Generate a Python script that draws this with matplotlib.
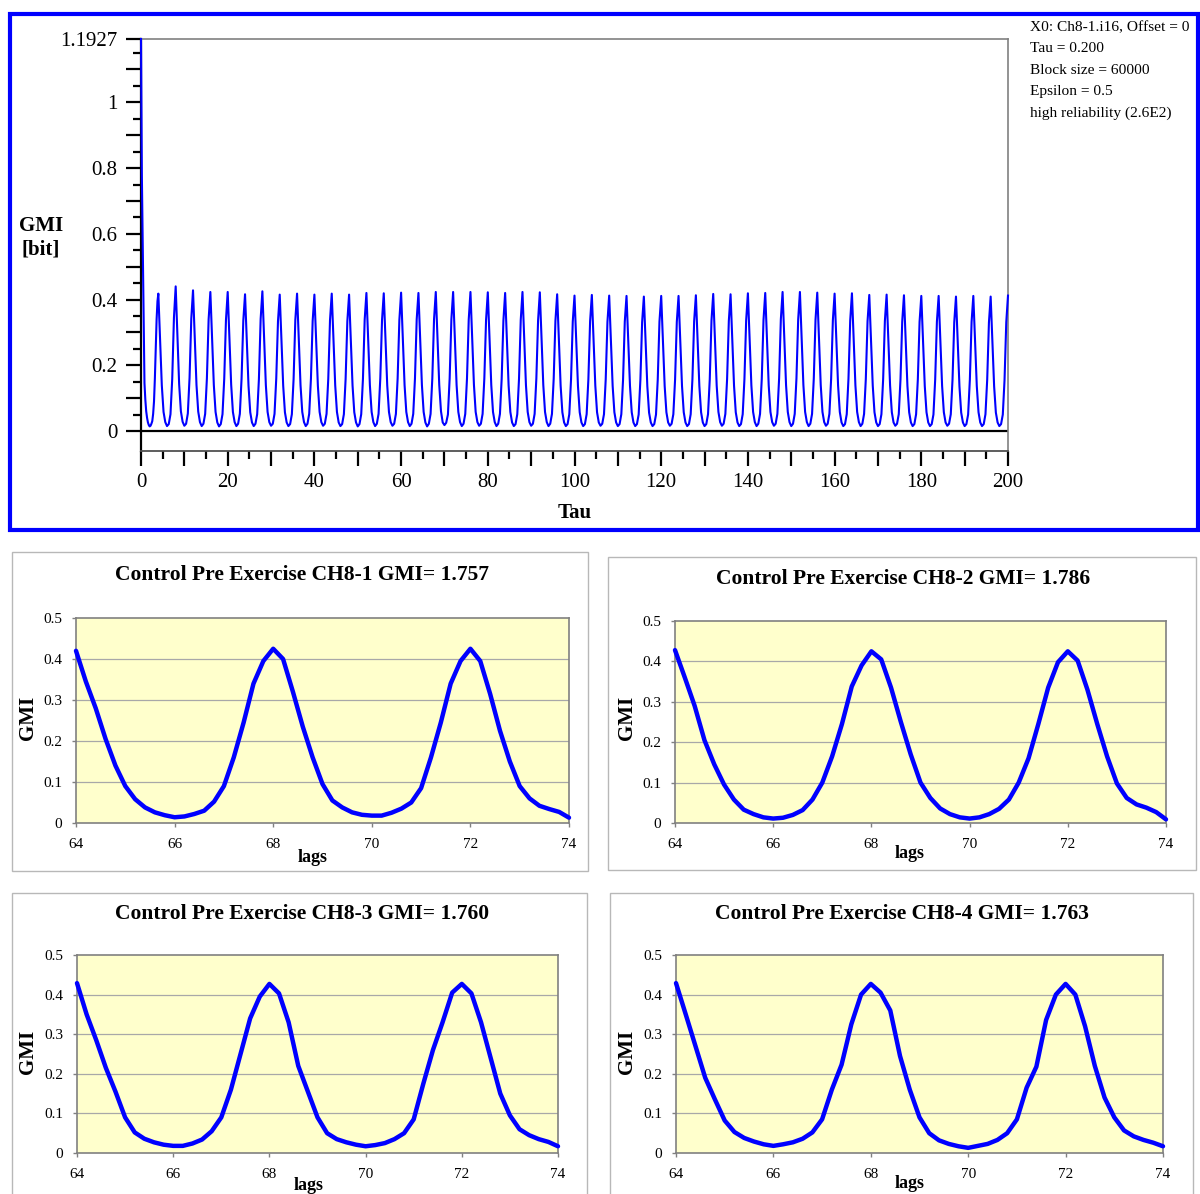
import numpy as np
import matplotlib
matplotlib.use('Agg')
import matplotlib.pyplot as plt
from matplotlib.patches import Rectangle
from matplotlib.ticker import FixedLocator, FixedFormatter

plt.rcParams['font.family'] = ['Liberation Serif', 'DejaVu Serif']

# ---------------- data: top chart (GMI vs Tau) ----------------
# tau 0 .. 3.8, step 0.2
gmi_start = [1.1927, 0.776, 0.557, 0.330, 0.146, 0.095, 0.060, 0.040, 0.026, 0.018,
             0.014, 0.016, 0.022, 0.030, 0.052, 0.090, 0.160, 0.245, 0.340, 0.395]
# each row: tau = 4k + [0, 0.4, ..., 3.6]  for k = 1 .. 49
gmi_cycles = [
    [0.418, 0.281, 0.139, 0.058, 0.027, 0.015, 0.021, 0.051, 0.158, 0.345],
    [0.440, 0.290, 0.142, 0.060, 0.028, 0.016, 0.022, 0.053, 0.162, 0.342],
    [0.428, 0.285, 0.140, 0.059, 0.027, 0.015, 0.022, 0.052, 0.160, 0.340],
    [0.423, 0.282, 0.140, 0.058, 0.026, 0.014, 0.021, 0.051, 0.159, 0.338],
    [0.423, 0.283, 0.141, 0.058, 0.027, 0.015, 0.022, 0.052, 0.160, 0.336],
    [0.416, 0.279, 0.138, 0.057, 0.026, 0.015, 0.022, 0.051, 0.158, 0.341],
    [0.425, 0.284, 0.140, 0.058, 0.027, 0.016, 0.022, 0.052, 0.160, 0.334],
    [0.415, 0.278, 0.138, 0.057, 0.026, 0.015, 0.021, 0.051, 0.158, 0.338],
    [0.418, 0.280, 0.139, 0.058, 0.027, 0.015, 0.022, 0.052, 0.159, 0.335],
    [0.415, 0.279, 0.138, 0.058, 0.027, 0.016, 0.022, 0.052, 0.159, 0.337],
    [0.418, 0.280, 0.139, 0.058, 0.026, 0.015, 0.021, 0.051, 0.158, 0.334],
    [0.415, 0.278, 0.138, 0.057, 0.026, 0.014, 0.021, 0.051, 0.159, 0.339],
    [0.420, 0.281, 0.139, 0.058, 0.027, 0.015, 0.022, 0.052, 0.160, 0.337],
    [0.419, 0.280, 0.139, 0.058, 0.027, 0.016, 0.022, 0.052, 0.160, 0.338],
    [0.421, 0.281, 0.140, 0.058, 0.027, 0.015, 0.022, 0.052, 0.160, 0.340],
    [0.420, 0.280, 0.140, 0.058, 0.026, 0.014, 0.022, 0.052, 0.160, 0.340],
    [0.423, 0.282, 0.140, 0.060, 0.026, 0.018, 0.025, 0.050, 0.160, 0.340],
    [0.423, 0.282, 0.140, 0.058, 0.027, 0.015, 0.022, 0.052, 0.160, 0.339],
    [0.423, 0.282, 0.141, 0.058, 0.027, 0.016, 0.022, 0.052, 0.160, 0.338],
    [0.422, 0.281, 0.140, 0.058, 0.027, 0.015, 0.022, 0.052, 0.159, 0.336],
    [0.420, 0.280, 0.139, 0.058, 0.026, 0.015, 0.021, 0.051, 0.159, 0.338],
    [0.423, 0.282, 0.140, 0.058, 0.027, 0.016, 0.022, 0.052, 0.160, 0.337],
    [0.422, 0.281, 0.140, 0.058, 0.027, 0.015, 0.022, 0.052, 0.159, 0.335],
    [0.416, 0.279, 0.138, 0.057, 0.026, 0.015, 0.021, 0.051, 0.157, 0.333],
    [0.412, 0.277, 0.137, 0.057, 0.026, 0.015, 0.021, 0.051, 0.157, 0.334],
    [0.414, 0.278, 0.138, 0.057, 0.026, 0.016, 0.022, 0.051, 0.157, 0.332],
    [0.412, 0.277, 0.137, 0.057, 0.026, 0.015, 0.021, 0.051, 0.156, 0.333],
    [0.411, 0.276, 0.137, 0.057, 0.026, 0.015, 0.021, 0.050, 0.156, 0.331],
    [0.409, 0.275, 0.136, 0.056, 0.026, 0.015, 0.021, 0.050, 0.156, 0.333],
    [0.411, 0.276, 0.137, 0.057, 0.026, 0.016, 0.022, 0.051, 0.156, 0.332],
    [0.411, 0.276, 0.137, 0.057, 0.026, 0.015, 0.021, 0.051, 0.157, 0.334],
    [0.413, 0.277, 0.137, 0.057, 0.026, 0.015, 0.021, 0.051, 0.157, 0.336],
    [0.417, 0.279, 0.138, 0.058, 0.027, 0.016, 0.022, 0.052, 0.158, 0.335],
    [0.416, 0.279, 0.138, 0.057, 0.026, 0.015, 0.021, 0.051, 0.158, 0.337],
    [0.419, 0.280, 0.139, 0.058, 0.027, 0.015, 0.022, 0.052, 0.159, 0.338],
    [0.420, 0.280, 0.139, 0.058, 0.027, 0.016, 0.022, 0.052, 0.160, 0.340],
    [0.423, 0.282, 0.140, 0.058, 0.027, 0.015, 0.022, 0.052, 0.160, 0.340],
    [0.423, 0.282, 0.140, 0.058, 0.027, 0.015, 0.022, 0.052, 0.160, 0.339],
    [0.421, 0.281, 0.140, 0.058, 0.027, 0.016, 0.022, 0.052, 0.159, 0.337],
    [0.418, 0.280, 0.139, 0.058, 0.026, 0.015, 0.021, 0.051, 0.159, 0.336],
    [0.419, 0.280, 0.139, 0.058, 0.027, 0.015, 0.022, 0.052, 0.158, 0.334],
    [0.414, 0.278, 0.138, 0.057, 0.026, 0.015, 0.021, 0.051, 0.158, 0.335],
    [0.415, 0.278, 0.138, 0.057, 0.026, 0.016, 0.022, 0.051, 0.157, 0.333],
    [0.413, 0.277, 0.137, 0.057, 0.026, 0.015, 0.021, 0.051, 0.157, 0.332],
    [0.411, 0.276, 0.137, 0.057, 0.026, 0.015, 0.021, 0.050, 0.156, 0.333],
    [0.411, 0.276, 0.137, 0.057, 0.026, 0.016, 0.022, 0.051, 0.156, 0.331],
    [0.409, 0.275, 0.136, 0.056, 0.026, 0.015, 0.021, 0.050, 0.156, 0.332],
    [0.411, 0.276, 0.137, 0.057, 0.026, 0.015, 0.021, 0.051, 0.156, 0.330],
    [0.409, 0.275, 0.136, 0.056, 0.026, 0.015, 0.021, 0.050, 0.155, 0.331],
]
gmi_end = [0.412]   # tau = 200

top_y_major = [0, 0.1, 0.2, 0.3, 0.4, 0.5, 0.6, 0.7, 0.8, 0.9, 1.0, 1.1, 1.1927]
top_y_labels = ['0', '', '0.2', '', '0.4', '', '0.6', '', '0.8', '', '1', '', '1.1927']
top_x_major = list(range(0, 201, 10))
top_x_labels = [str(v) if v % 20 == 0 else '' for v in top_x_major]

info_lines = ['X0: Ch8-1.i16, Offset = 0', 'Tau = 0.200', 'Block size = 60000',
              'Epsilon = 0.5', 'high reliability (2.6E2)']

# ---------------- data: bottom panels (lags 64..74, step 0.2) ----------------
panel_titles = ['Control Pre Exercise CH8-1 GMI= 1.757',
                'Control Pre Exercise CH8-2 GMI= 1.786',
                'Control Pre Exercise CH8-3 GMI= 1.760',
                'Control Pre Exercise CH8-4 GMI= 1.763']
gmi_ch8_1 = [0.420, 0.345, 0.280, 0.205, 0.140, 0.090, 0.058, 0.038, 0.026, 0.019,
             0.014, 0.016, 0.022, 0.030, 0.052, 0.090, 0.160, 0.245, 0.340, 0.395,
             0.425, 0.400, 0.320, 0.235, 0.160, 0.095, 0.055, 0.038, 0.026, 0.020,
             0.018, 0.018, 0.025, 0.035, 0.050, 0.085, 0.160, 0.245, 0.340, 0.395,
             0.425, 0.395, 0.315, 0.225, 0.150, 0.090, 0.060, 0.042, 0.034, 0.027,
             0.013]
gmi_ch8_2 = [0.428, 0.360, 0.290, 0.205, 0.145, 0.095, 0.058, 0.033, 0.022, 0.014,
             0.011, 0.013, 0.020, 0.032, 0.058, 0.100, 0.165, 0.245, 0.338, 0.390,
             0.425, 0.405, 0.335, 0.250, 0.170, 0.100, 0.062, 0.036, 0.022, 0.014,
             0.011, 0.014, 0.022, 0.035, 0.058, 0.100, 0.160, 0.245, 0.335, 0.398,
             0.425, 0.402, 0.330, 0.245, 0.165, 0.098, 0.062, 0.046, 0.038, 0.027,
             0.009]
gmi_ch8_3 = [0.429, 0.350, 0.285, 0.215, 0.155, 0.090, 0.052, 0.036, 0.027, 0.021,
             0.018, 0.018, 0.024, 0.034, 0.055, 0.090, 0.160, 0.250, 0.340, 0.395,
             0.427, 0.403, 0.330, 0.220, 0.155, 0.090, 0.050, 0.035, 0.027, 0.021,
             0.017, 0.020, 0.025, 0.035, 0.050, 0.085, 0.175, 0.260, 0.330, 0.405,
             0.427, 0.403, 0.330, 0.240, 0.150, 0.095, 0.060, 0.045, 0.035, 0.028,
             0.017]
gmi_ch8_4 = [0.429, 0.350, 0.270, 0.190, 0.135, 0.082, 0.053, 0.038, 0.029, 0.022,
             0.018, 0.022, 0.027, 0.036, 0.052, 0.085, 0.160, 0.223, 0.325, 0.400,
             0.427, 0.405, 0.360, 0.245, 0.160, 0.090, 0.050, 0.032, 0.023, 0.017,
             0.013, 0.018, 0.023, 0.033, 0.050, 0.085, 0.165, 0.218, 0.336, 0.400,
             0.427, 0.400, 0.320, 0.220, 0.140, 0.090, 0.057, 0.042, 0.033, 0.026,
             0.017]
panel_values = [gmi_ch8_1, gmi_ch8_2, gmi_ch8_3, gmi_ch8_4]
lag_ticks = [64, 66, 68, 70, 72, 74]
gmi_ticks = [0, 0.1, 0.2, 0.3, 0.4, 0.5]
gmi_tick_labels = ['0', '0.1', '0.2', '0.3', '0.4', '0.5']

# ---------------- figure ----------------
W, H = 1200, 1194
fig = plt.figure(figsize=(W / 100, H / 100), dpi=100)
fig.patch.set_facecolor('white')


def fx(px):
    return px / W


def fy(py):
    return 1 - py / H


def add_axes_px(l, t, r, b):
    return fig.add_axes([fx(l), fy(b), (r - l) / W, (b - t) / H])


def rect_px(l, t, r, b, color, lw):
    fig.add_artist(Rectangle((fx(l), fy(b)), (r - l) / W, (b - t) / H,
                             transform=fig.transFigure, fill=False,
                             edgecolor=color, linewidth=lw, zorder=0))


# ---- top panel ----
rect_px(9.7, 13.7, 1198, 530, '#0000ff', 3.0)

tau_top = np.concatenate([np.arange(len(gmi_start)) * 0.2,
                          4 + np.arange(len(gmi_cycles) * 10) * 0.4,
                          [200.0]])
gmi_top = np.concatenate([gmi_start, np.ravel(gmi_cycles), gmi_end])

ax = add_axes_px(141, 39, 1008, 451)
ymin = -20 / ((431 - 39) / 1.1927)
ax.set_xlim(0, 200)
ax.set_ylim(ymin, 1.1927)
ax.plot(tau_top, gmi_top, color='#0000ff', lw=1.5, clip_on=False, zorder=3)
ax.axhline(0, color='black', lw=1.6, zorder=2)
ax.spines['left'].set_color('black')
ax.spines['left'].set_linewidth(1.6)
ax.spines['bottom'].set_color('#505050')
ax.spines['bottom'].set_linewidth(1.3)
for s in ('top', 'right'):
    ax.spines[s].set_color('#808080')
    ax.spines[s].set_linewidth(1.2)

ax.yaxis.set_major_locator(FixedLocator(top_y_major))
ax.yaxis.set_major_formatter(FixedFormatter(top_y_labels))
ax.yaxis.set_minor_locator(FixedLocator([0.05 + 0.1 * i for i in range(12)]))
ax.xaxis.set_major_locator(FixedLocator(top_x_major))
ax.xaxis.set_major_formatter(FixedFormatter(top_x_labels))
ax.xaxis.set_minor_locator(FixedLocator([5 + 10 * i for i in range(20)]))
ax.tick_params(axis='both', which='major', length=11, width=1.6, color='black',
               direction='out', labelsize=15, pad=6)
ax.tick_params(axis='both', which='minor', length=6, width=1.6, color='black',
               direction='out')
ax.tick_params(axis='x', which='major', pad=4.5)

fig.text(fx(41), fy(238), 'GMI\n[bit]', ha='center', va='center',
         fontsize=15, fontweight='bold', linespacing=1.25)
fig.text(fx(575), fy(513), 'Tau', ha='center', va='center',
         fontsize=15, fontweight='bold')
for i, line in enumerate(info_lines):
    fig.text(fx(1030), fy(31 + 21.5 * i), line, ha='left', va='baseline',
             fontsize=11.1)

# ---- bottom panels ----
borders = [(12, 552, 588, 871), (608, 557, 1196, 870),
           (12, 893, 587, 1210), (610, 893, 1193, 1210)]
axboxes = [(76, 618, 569, 823), (675, 621, 1166, 823),
           (77, 955, 558, 1153), (676, 955, 1163, 1153)]
title_xy = [(302, 575), (903, 579), (302, 914), (902, 914)]
lags_xy = [(313, 857), (910, 853), (309, 1185), (910, 1184)]
gmiy_xy = [(28, 718), (627, 718), (28, 1052), (627, 1052)]

lags = 64 + np.arange(51) * 0.2

for k in range(4):
    rect_px(*borders[k], '#b8b8b8', 1.0)
    a = add_axes_px(*axboxes[k])
    a.set_facecolor('#ffffcc')
    a.set_xlim(64, 74)
    a.set_ylim(0, 0.5)
    for y in gmi_ticks[1:-1]:
        a.axhline(y, color='#a8a8a8', lw=0.9, zorder=1)
    a.plot(lags, panel_values[k], color='#0000ff', lw=3.2, zorder=3,
           solid_joinstyle='round', solid_capstyle='round', clip_on=False)
    for s in a.spines.values():
        s.set_color('#808080')
        s.set_linewidth(1.2)
    a.set_xticks(lag_ticks)
    a.set_xticklabels([str(v) for v in lag_ticks])
    a.set_yticks(gmi_ticks)
    a.set_yticklabels(gmi_tick_labels)
    a.tick_params(axis='both', length=3, width=1, color='#808080',
                  labelsize=11, direction='out')
    a.tick_params(axis='x', pad=8)
    a.tick_params(axis='y', pad=7)
    fig.text(fx(title_xy[k][0]), fy(title_xy[k][1]), panel_titles[k],
             ha='center', va='center', fontsize=15.5, fontweight='bold')
    fig.text(fx(lags_xy[k][0]), fy(lags_xy[k][1]), 'lags', ha='center',
             va='center', fontsize=13, fontweight='bold')
    fig.text(fx(gmiy_xy[k][0]), fy(gmiy_xy[k][1]), 'GMI', ha='center',
             va='center', fontsize=15, fontweight='bold', rotation=90)

fig.savefig('out.png', dpi=100)
